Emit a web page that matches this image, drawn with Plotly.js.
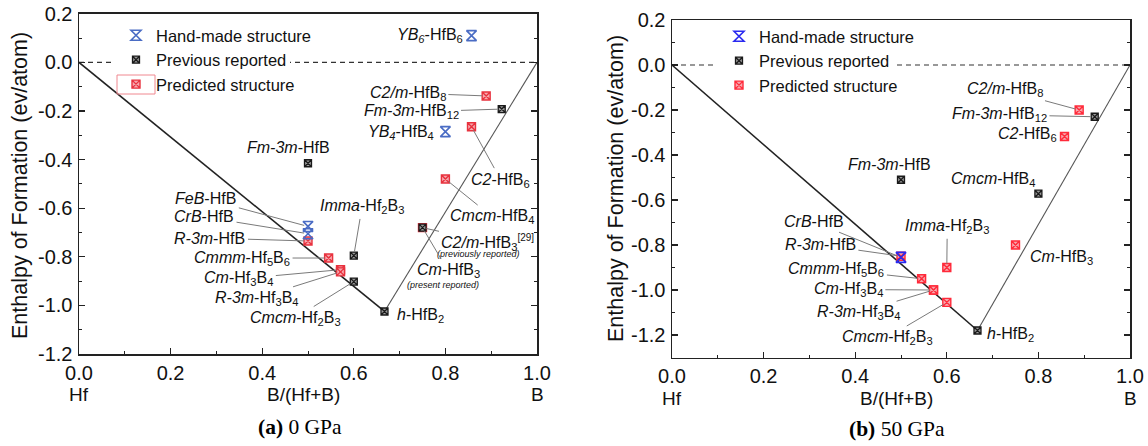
<!DOCTYPE html>
<html><head><meta charset="utf-8">
<script src="https://cdn.plot.ly/plotly-3.0.1.min.js"></script>
<style>html,body{margin:0;padding:0;background:#fff;} #chart{width:1148px;height:446px;}</style>
</head><body><div id="chart"></div>
<script>
// ---------- DATA ----------
// Panel (a) 0 GPa
const handA_names = ["YB6-HfB6", "YB4-HfB4", "FeB-HfB", "CrB-HfB"];
const handA_x = [0.857, 0.8, 0.5, 0.5];
const handA_y = [0.11, -0.285, -0.675, -0.705];
const prevA_names = ["Fm-3m-HfB", "Fm-3m-HfB12", "Imma-Hf2B3", "Cmcm-Hf2B3", "h-HfB2", "C2/m-HfB3"];
const prevA_x = [0.5, 0.923, 0.6, 0.6, 0.667, 0.75];
const prevA_y = [-0.415, -0.192, -0.795, -0.902, -1.025, -0.68];
const predA_names = ["C2/m-HfB8", "C2-HfB6", "Cmcm-HfB4", "R-3m-HfB", "Cmmm-Hf5B6", "Cm-Hf3B4", "R-3m-Hf3B4", "Cm-HfB3"];
const predA_x = [0.889, 0.857, 0.8, 0.5, 0.545, 0.571, 0.571, 0.75];
const predA_y = [-0.138, -0.265, -0.48, -0.735, -0.805, -0.853, -0.862, -0.68];
const hullA_x = [0, 0.667, 1];
const hullA_y = [0, -1.025, 0];

// Panel (b) 50 GPa
const handB_names = ["CrB-HfB"];
const handB_x = [0.5];
const handB_y = [-0.855];
const prevB_names = ["Fm-3m-HfB", "Fm-3m-HfB12", "Cmcm-HfB4", "h-HfB2"];
const prevB_x = [0.5, 0.923, 0.8, 0.667];
const prevB_y = [-0.51, -0.23, -0.572, -1.18];
const predB_names = ["C2/m-HfB8", "C2-HfB6", "R-3m-HfB", "Imma-Hf2B3", "Cmmm-Hf5B6", "Cm-Hf3B4", "R-3m-Hf3B4", "Cmcm-Hf2B3", "Cm-HfB3"];
const predB_x = [0.889, 0.857, 0.5, 0.6, 0.545, 0.571, 0.571, 0.6, 0.75];
const predB_y = [-0.2, -0.318, -0.85, -0.9, -0.95, -1.0, -1.0, -1.055, -0.8];
const hullB_x = [0, 0.667, 1];
const hullB_y = [0, -1.18, 0];

const ref_x = [0, 1];
const ref_y = [0, 0];

const xTickVals = [0, 0.2, 0.4, 0.6, 0.8, 1.0];
const xTickText = ["0.0", "0.2", "0.4", "0.6", "0.8", "1.0"];
const yTickVals = [-1.2, -1.0, -0.8, -0.6, -0.4, -0.2, 0.0, 0.2];
const yTickText = ["-1.2", "-1.0", "-0.8", "-0.6", "-0.4", "-0.2", "0.0", "0.2"];

const legendNames = ["Hand-made structure", "Previous reported", "Predicted structure"];

// ---------- STYLE ----------
const F = "Liberation Sans, Arial, Helvetica, sans-serif";
const FS = "Liberation Serif, Times New Roman, serif";
const W = 1148, H = 446;

function pts(list) {
  const m = {};
  list.forEach(([n, x, y]) => n.forEach((nm, i) => { m[nm] = [x[i], y[i]]; }));
  return m;
}
const ptsA = pts([[handA_names, handA_x, handA_y], [prevA_names, prevA_x, prevA_y], [predA_names, predA_x, predA_y]]);
const ptsB = pts([[handB_names, handB_x, handB_y], [prevB_names, prevB_x, prevB_y], [predB_names, predB_x, predB_y]]);

const traces = [];
function panelTraces(xa, ya, leg, hx, hy, pr, pv, hd, blue, red) {
  traces.push({x: ref_x, y: ref_y, xaxis: xa, yaxis: ya, mode: 'lines', line: {color: '#333', width: 1.2, dash: '5px,4px'}, showlegend: false, hoverinfo: 'skip'});
  traces.push({x: hx.slice(0, 2), y: hy.slice(0, 2), xaxis: xa, yaxis: ya, mode: 'lines', line: {color: '#222', width: 1.6}, showlegend: false, hoverinfo: 'skip'});
  traces.push({x: hx.slice(1), y: hy.slice(1), xaxis: xa, yaxis: ya, mode: 'lines', line: {color: '#555', width: 1.1}, showlegend: false, hoverinfo: 'skip'});
  traces.push({x: pr[0], y: pr[1], xaxis: xa, yaxis: ya, mode: 'markers', name: legendNames[2], legend: leg, legendrank: 3,
    marker: {symbol: 'square-x', size: 8, color: '#f7a8ae', line: {color: red, width: 1.4}}});
  traces.push({x: pv[0], y: pv[1], xaxis: xa, yaxis: ya, mode: 'markers', name: legendNames[1], legend: leg, legendrank: 2,
    marker: {symbol: 'square-x', size: 7, color: '#9a9a9a', line: {color: '#1a1a1a', width: 1.3}}});
  traces.push({x: hd[0], y: hd[1], xaxis: xa, yaxis: ya, mode: 'markers', name: legendNames[0], legend: leg, legendrank: 1,
    marker: {symbol: 'hourglass-open', size: 10, color: blue, line: {color: blue, width: 1.6}}});
}
panelTraces('x', 'y', 'legend', hullA_x, hullA_y, [predA_x, predA_y], [prevA_x, prevA_y], [handA_x, handA_y], '#4a6cc4', '#e8323e');
panelTraces('x2', 'y2', 'legend2', hullB_x, hullB_y, [predB_x, predB_y], [prevB_x, prevB_y], [handB_x, handB_y], '#2a2af0', '#ff2a3a');

// ---------- ANNOTATIONS ----------
const annotations = [];
function arrowLab(P, xr, yr, name, text, ax, ay) {
  const p = P[name];
  annotations.push({xref: xr, yref: yr, axref: xr, ayref: yr, x: p[0], y: p[1], ax: ax, ay: ay, text: text,
    xanchor: 'center', yanchor: 'middle',
    showarrow: true, arrowhead: 0, arrowwidth: 1, arrowcolor: '#7a7a7a', standoff: 4, startstandoff: 1,
    font: {family: F, size: 16, color: '#111'}});
}
function plainLab(P, xr, yr, name, text, anchor, dx, dy, size) {
  const p = P[name];
  annotations.push({xref: xr, yref: yr, x: p[0], y: p[1], text: text, showarrow: false, xanchor: anchor, yanchor: 'middle',
    xshift: dx, yshift: dy, font: {family: F, size: size || 16, color: '#111'}});
}
// Panel (a)
plainLab(ptsA, 'x', 'y', 'YB6-HfB6', '<i>YB<sub>6</sub></i>-HfB<sub>6</sub>', 'right', -7, 0);
plainLab(ptsA, 'x', 'y', 'YB4-HfB4', '<i>YB<sub>4</sub></i>-HfB<sub>4</sub>', 'right', -9, -1);
plainLab(ptsA, 'x', 'y', 'Fm-3m-HfB', '<i>Fm-3m</i>-HfB', 'center', -20, 16);
plainLab(ptsA, 'x', 'y', 'h-HfB2', '<i>h</i>-HfB<sub>2</sub>', 'left', 11, -4);
plainLab(ptsA, 'x', 'y', 'C2/m-HfB3', '<i>(previously reported)</i>', 'center', 56, -26, 9);
plainLab(ptsA, 'x', 'y', 'Cm-HfB3', '<i>(present reported)</i>', 'center', 20, -57, 9);
arrowLab(ptsA, 'x', 'y', 'C2/m-HfB8', '<i>C2/m</i>-HfB<sub>8</sub>', 0.718, -0.126);
arrowLab(ptsA, 'x', 'y', 'Fm-3m-HfB12', '<i>Fm-3m</i>-HfB<sub>12</sub>', 0.725, -0.204);
arrowLab(ptsA, 'x', 'y', 'C2-HfB6', '<i>C2</i>-HfB<sub>6</sub>', 0.921, -0.484);
arrowLab(ptsA, 'x', 'y', 'Cmcm-HfB4', '<i>Cmcm</i>-HfB<sub>4</sub>', 0.902, -0.635);
arrowLab(ptsA, 'x', 'y', 'C2/m-HfB3', '<i>C2/m</i>-HfB<sub>3</sub><sup><span style="font-size:10px">[29]</span></sup>', 0.893, -0.74);
arrowLab(ptsA, 'x', 'y', 'Cm-HfB3', '<i>Cm</i>-HfB<sub>3</sub>', 0.806, -0.858);
arrowLab(ptsA, 'x', 'y', 'FeB-HfB', '<i>FeB</i>-HfB', 0.277, -0.562);
arrowLab(ptsA, 'x', 'y', 'CrB-HfB', '<i>CrB</i>-HfB', 0.273, -0.636);
arrowLab(ptsA, 'x', 'y', 'R-3m-HfB', '<i>R-3m</i>-HfB', 0.286, -0.723);
arrowLab(ptsA, 'x', 'y', 'Imma-Hf2B3', '<i>Imma</i>-Hf<sub>2</sub>B<sub>3</sub>', 0.618, -0.595);
arrowLab(ptsA, 'x', 'y', 'Cmmm-Hf5B6', '<i>Cmmm</i>-Hf<sub>5</sub>B<sub>6</sub>', 0.356, -0.805);
arrowLab(ptsA, 'x', 'y', 'Cm-Hf3B4', '<i>Cm</i>-Hf<sub>3</sub>B<sub>4</sub>', 0.349, -0.891);
arrowLab(ptsA, 'x', 'y', 'R-3m-Hf3B4', '<i>R-3m</i>-Hf<sub>3</sub>B<sub>4</sub>', 0.389, -0.970);
arrowLab(ptsA, 'x', 'y', 'Cmcm-Hf2B3', '<i>Cmcm</i>-Hf<sub>2</sub>B<sub>3</sub>', 0.472, -1.052);
// Panel (b)
plainLab(ptsB, 'x2', 'y2', 'Fm-3m-HfB', '<i>Fm-3m</i>-HfB', 'right', 32, 15);
plainLab(ptsB, 'x2', 'y2', 'Cmcm-HfB4', '<i>Cmcm</i>-HfB<sub>4</sub>', 'right', -1, 14);
plainLab(ptsB, 'x2', 'y2', 'C2-HfB6', '<i>C2</i>-HfB<sub>6</sub>', 'right', -6, 2);
plainLab(ptsB, 'x2', 'y2', 'Cm-HfB3', '<i>Cm</i>-HfB<sub>3</sub>', 'left', 12, -12);
plainLab(ptsB, 'x2', 'y2', 'h-HfB2', '<i>h</i>-HfB<sub>2</sub>', 'left', 8, -4);
arrowLab(ptsB, 'x2', 'y2', 'C2/m-HfB8', '<i>C2/m</i>-HfB<sub>8</sub>', 0.726, -0.11);
arrowLab(ptsB, 'x2', 'y2', 'Fm-3m-HfB12', '<i>Fm-3m</i>-HfB<sub>12</sub>', 0.715, -0.221);
arrowLab(ptsB, 'x2', 'y2', 'Imma-Hf2B3', '<i>Imma</i>-Hf<sub>2</sub>B<sub>3</sub>', 0.601, -0.719);
arrowLab(ptsB, 'x2', 'y2', 'CrB-HfB', '<i>CrB</i>-HfB', 0.309, -0.697);
arrowLab(ptsB, 'x2', 'y2', 'R-3m-HfB', '<i>R-3m</i>-HfB', 0.324, -0.799);
arrowLab(ptsB, 'x2', 'y2', 'Cmmm-Hf5B6', '<i>Cmmm</i>-Hf<sub>5</sub>B<sub>6</sub>', 0.359, -0.909);
arrowLab(ptsB, 'x2', 'y2', 'Cm-Hf3B4', '<i>Cm</i>-Hf<sub>3</sub>B<sub>4</sub>', 0.385, -0.998);
arrowLab(ptsB, 'x2', 'y2', 'R-3m-Hf3B4', '<i>R-3m</i>-Hf<sub>3</sub>B<sub>4</sub>', 0.409, -1.1);
arrowLab(ptsB, 'x2', 'y2', 'Cmcm-Hf2B3', '<i>Cmcm</i>-Hf<sub>2</sub>B<sub>3</sub>', 0.47, -1.211);

// axis titles, end labels, captions
[[20, 186], [616, 189]].forEach(([px, py]) => annotations.push({xref: 'paper', yref: 'paper', x: px / W, y: 1 - py / H,
  xanchor: 'center', yanchor: 'middle',
  text: 'Enthalpy of Formation (ev/atom)', textangle: -90, showarrow: false, font: {family: F, size: 21.5, color: '#111'}}));
[['x', 394], ['x2', 398]].forEach(([xr, py]) => {
  const base = {xref: xr, yref: 'paper', y: 1 - py / H, showarrow: false, xanchor: 'center', yanchor: 'middle', font: {family: F, size: 19, color: '#111'}};
  annotations.push(Object.assign({}, base, {x: xTickVals[0], text: 'Hf'}));
  annotations.push(Object.assign({}, base, {x: xTickVals[5], text: 'B'}));
  annotations.push(Object.assign({}, base, {x: 0.49, text: 'B/(Hf+B)'}));
});
annotations.push({xref: 'paper', yref: 'paper', x: 300 / W, y: 1 - 427 / H, xanchor: 'center', yanchor: 'middle', text: '<b>(a)</b> 0 GPa', showarrow: false, font: {family: FS, size: 21.5, color: '#000'}});
annotations.push({xref: 'paper', yref: 'paper', x: 897 / W, y: 1 - 429 / H, xanchor: 'center', yanchor: 'middle', text: '<b>(b)</b> 50 GPa', showarrow: false, font: {family: FS, size: 21.5, color: '#000'}});

// ---------- LAYOUT ----------
function xax(domain) {
  return {domain: domain, range: [0, 1], tickmode: 'array', tickvals: xTickVals, ticktext: xTickText,
    showline: true, linecolor: '#222', linewidth: 1.5, mirror: true, ticks: 'inside', ticklen: 6, tickwidth: 1.2, tickcolor: '#222',
    showgrid: false, zeroline: false, ticklabelstandoff: 0, tickfont: {family: F, size: 20, color: '#111'},
    minor: {tickmode: 'linear', tick0: 0, dtick: 0.1, ticks: 'inside', ticklen: 3, tickwidth: 1, tickcolor: '#222'}};
}
function yax(domain, range, anchor) {
  return {domain: domain, range: range, anchor: anchor, tickmode: 'array', tickvals: yTickVals, ticktext: yTickText,
    showline: true, linecolor: '#222', linewidth: 1.5, mirror: 'ticks', ticks: 'inside', ticklen: 6, tickwidth: 1.2, tickcolor: '#222',
    showgrid: false, zeroline: false, ticklabelstandoff: 1, tickfont: {family: F, size: 20, color: '#111'},
    minor: {tickmode: 'linear', tick0: 0, dtick: 0.1, ticks: 'inside', ticklen: 3, tickwidth: 1, tickcolor: '#222'}};
}
const layout = {
  width: W, height: H, margin: {l: 0, r: 0, t: 0, b: 0}, paper_bgcolor: '#fff', plot_bgcolor: '#fff',
  font: {family: F, color: '#111'},
  xaxis: Object.assign(xax([79 / W, 537 / W]), {anchor: 'y'}),
  yaxis: yax([1 - 354 / H, 1 - 13.8 / H], [-1.2, 0.2], 'x'),
  xaxis2: Object.assign(xax([672 / W, 1130 / W]), {anchor: 'y2'}),
  yaxis2: yax([1 - 357.5 / H, 1 - 20 / H], [-1.3, 0.2], 'x2'),
  legend: {x: 116 / W, y: 1 - 18 / H, xanchor: 'left', yanchor: 'top', bgcolor: 'rgba(0,0,0,0)', borderwidth: 0, tracegroupgap: 0,
    font: {family: F, size: 16.5, color: '#111'}, itemclick: false},
  legend2: {x: 719 / W, y: 1 - 19 / H, xanchor: 'left', yanchor: 'top', bgcolor: 'rgba(0,0,0,0)', borderwidth: 0, tracegroupgap: 0,
    font: {family: F, size: 16.5, color: '#111'}, itemclick: false},
  shapes: [
    {type: 'rect', xref: 'paper', yref: 'paper', x0: 117 / W, x1: 155 / W, y0: 1 - 94 / H, y1: 1 - 75 / H,
      line: {color: '#f08890', width: 1}, fillcolor: 'rgba(0,0,0,0)', layer: 'above'},
    // white masks behind the legend text (reference legend box hides the dashed zero line)
    {type: 'rect', xref: 'paper', yref: 'paper', x0: 111 / W, x1: 290 / W, y0: 1 - 66 / H, y1: 1 - 57 / H,
      line: {width: 0}, fillcolor: '#fff', layer: 'above'},
    {type: 'rect', xref: 'paper', yref: 'paper', x0: 717 / W, x1: 893 / W, y0: 1 - 69 / H, y1: 1 - 60 / H,
      line: {width: 0}, fillcolor: '#fff', layer: 'above'}
  ],
  annotations: annotations
};
Plotly.newPlot('chart', traces, layout, {displayModeBar: false, staticPlot: true});
</script></body></html>
